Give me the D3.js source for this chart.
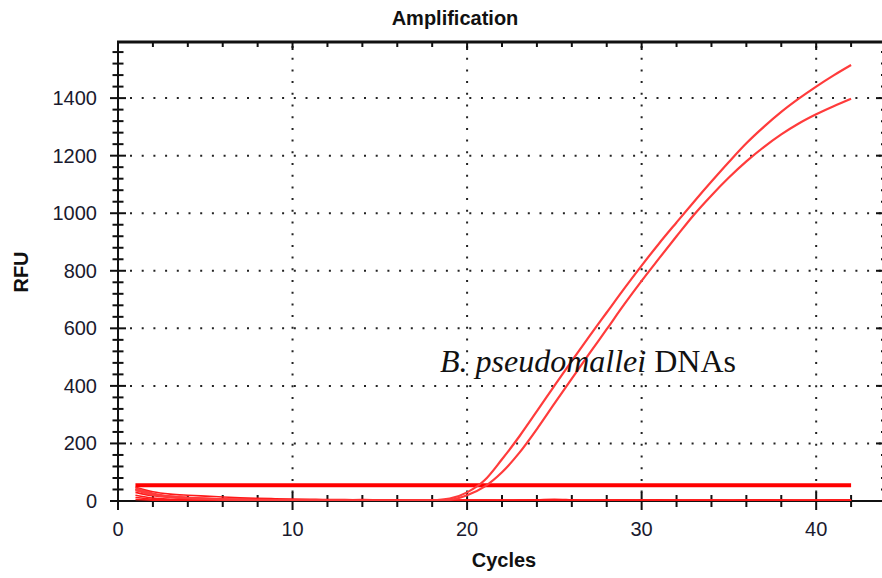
<!DOCTYPE html>
<html lang="en">
<head>
    <meta charset="UTF-8">
    <title>Amplification</title>
    <script src="https://d3js.org/d3.v7.min.js"></script>
    <style>
        body { margin: 0; background: white; }
        .tick-label { font-family: "Liberation Sans", Arial, sans-serif; font-size: 20px; fill: #1a1a2e; }
        .axis-title { font-family: "Liberation Sans", Arial, sans-serif; font-size: 20px; font-weight: bold; fill: #111; }
        .note { font-family: "Liberation Serif", "Times New Roman", serif; font-size: 32px; fill: #111; }
    </style>
</head>
<body>
<div id="chart"></div>
<script>
// cycle numbers (x) for every series
const cycles = [1, 2, 3, 4, 5, 6, 7, 8, 9, 10, 11, 12, 13, 14, 15, 16, 17, 18, 19, 20, 21,
    22, 23, 24, 25, 26, 27, 28, 29, 30, 31, 32, 33, 34, 35, 36, 37, 38, 39, 40, 41, 42];

// the two positive samples
const ampHigh = [44, 26, 16, 11, 8, 6, 5, 4, 3, 3, 2, 2, 2, 1, 1, 1, 1, 2, 8, 30, 72,
    145, 225, 312, 400, 487, 572, 655, 738, 818, 895, 968, 1040, 1110, 1178, 1243, 1300, 1352, 1398, 1440, 1479, 1515];
const ampLow = [38, 22, 14, 10, 7, 5, 4, 3, 3, 2, 2, 2, 1, 1, 1, 1, 1, 1, 4, 20, 50,
    100, 168, 250, 338, 425, 512, 597, 683, 765, 843, 920, 995, 1062, 1124, 1180, 1230, 1274, 1312, 1344, 1372, 1398];

// negatives / baseline wells
const neg1 = [48, 32, 24, 20, 17, 14, 11, 9, 8, 7, 6, 5, 5, 4, 4, 4, 3, 3, 3, 3, 3,
    3, 3, 3, 3, 3, 3, 3, 3, 3, 3, 3, 3, 3, 3, 3, 3, 3, 3, 3, 3, 3];
const neg2 = [40, 24, 16, 12, 9, 7, 6, 5, 4, 4, 3, 3, 3, 2, 2, 2, 2, 2, 2, 2, 2,
    2, 2, 2, 2, 2, 2, 2, 2, 2, 2, 2, 2, 2, 2, 2, 2, 2, 2, 2, 2, 2];
const neg3 = [30, 18, 12, 8, 6, 5, 4, 3, 3, 2, 2, 2, 3, 5, 3, 2, 2, 2, 1, 1, 2,
    2, 3, 4, 6, 4, 2, 2, 2, 3, 4, 3, 2, 2, 2, 3, 4, 3, 2, 2, 3, 3];
const neg4 = [20, 10, 6, 4, 3, 2, 2, 1, 1, 1, 1, 1, 1, 1, 1, 1, 1, 1, 1, 1, 1,
    1, 1, 1, 1, 1, 1, 1, 1, 1, 1, 1, 1, 1, 1, 1, 1, 1, 1, 1, 1, 1];
const neg5 = [12, 6, 4, 3, 2, 2, 3, 2, 1, 1, 2, 3, 2, 1, 1, 2, 1, 1, 2, 3, 2,
    1, 1, 2, 2, 1, 1, 2, 3, 2, 1, 1, 2, 2, 1, 2, 3, 2, 1, 1, 2, 2];
const neg6 = [5, 3, 2, 1, 1, 1, 0, 0, 1, 1, 0, 0, 0, 1, 1, 0, 0, 0, 0, 1, 1,
    0, 0, 0, 1, 1, 0, 0, 0, 0, 1, 0, 0, 0, 1, 1, 0, 0, 0, 0, 1, 1];

const threshold = 55;
const xMajor = [0, 10, 20, 30, 40];
const yMajor = [0, 200, 400, 600, 800, 1000, 1200, 1400];

function drawChart() {
    const W = 882, H = 578;
    const left = 118, top = 42, right = 886, bottom = 501;

    const svg = d3.select("#chart").append("svg")
        .attr("width", W).attr("height", H);

    const x = d3.scaleLinear().domain([0, 44]).range([left, right]);
    const y = d3.scaleLinear().domain([0, 1595]).range([bottom, top]);

    svg.append("clipPath").attr("id", "plot")
        .append("rect").attr("x", left).attr("y", top)
        .attr("width", right - left).attr("height", bottom - top);

    // dotted grid
    const grid = svg.append("g").attr("stroke", "#222").attr("stroke-width", 2)
        .attr("stroke-dasharray", "2,9.7");
    grid.selectAll(".gx").data(xMajor.filter(d => d > 0)).enter().append("line")
        .attr("x1", d => x(d)).attr("x2", d => x(d))
        .attr("y1", top + 4).attr("y2", bottom);
    grid.selectAll(".gy").data(yMajor.filter(d => d > 0)).enter().append("line")
        .attr("x1", left + 12).attr("x2", right)
        .attr("y1", d => y(d)).attr("y2", d => y(d));

    const minorY = d3.range(0, 1595, 40);
    const minorX = d3.range(0, 44, 2);
    const ax = svg.append("g").attr("stroke", "#111");
    // left ticks (cross the axis)
    ax.selectAll(".ly").data(minorY).enter().append("line")
        .attr("x1", d => left - (d % 200 === 0 ? 8 : 5.5))
        .attr("x2", d => left + (d % 200 === 0 ? 8 : 5.5))
        .attr("y1", d => y(d)).attr("y2", d => y(d)).attr("stroke-width", 2);
    // right ticks (inward)
    ax.selectAll(".ry").data(minorY).enter().append("line")
        .attr("x1", d => right - (d % 200 === 0 ? 10 : 5)).attr("x2", right)
        .attr("y1", d => y(d)).attr("y2", d => y(d)).attr("stroke-width", 2);
    // bottom ticks
    ax.selectAll(".bx").data(minorX).enter().append("line")
        .attr("x1", d => x(d)).attr("x2", d => x(d))
        .attr("y1", d => bottom - (d % 10 === 0 ? 9 : 6))
        .attr("y2", d => bottom + (d % 10 === 0 ? 9 : 6)).attr("stroke-width", 2);
    // top ticks (inward)
    ax.selectAll(".tx").data(minorX.filter(d => d > 0)).enter().append("line")
        .attr("x1", d => x(d)).attr("x2", d => x(d))
        .attr("y1", top).attr("y2", d => top + (d % 10 === 0 ? 8 : 5)).attr("stroke-width", 2);
    // frame
    ax.append("line").attr("x1", left).attr("x2", left).attr("y1", top - 1).attr("y2", bottom + 9).attr("stroke-width", 2);
    ax.append("line").attr("x1", left - 8).attr("x2", right).attr("y1", bottom).attr("y2", bottom).attr("stroke-width", 2);
    ax.append("line").attr("x1", left - 1).attr("x2", right).attr("y1", top).attr("y2", top).attr("stroke-width", 3);

    // tick labels
    svg.selectAll(".yl").data(yMajor).enter().append("text")
        .attr("class", "tick-label").attr("text-anchor", "end")
        .attr("x", 97).attr("y", d => y(d) + 7).text(d => d);
    svg.selectAll(".xl").data(xMajor).enter().append("text")
        .attr("class", "tick-label").attr("text-anchor", "middle")
        .attr("x", d => x(d)).attr("y", 536).text(d => d);

    // titles
    svg.append("text").attr("class", "axis-title").attr("text-anchor", "middle")
        .attr("x", 455).attr("y", 25).text("Amplification");
    svg.append("text").attr("class", "axis-title").attr("text-anchor", "middle")
        .attr("x", 504).attr("y", 567).text("Cycles");
    svg.append("text").attr("class", "axis-title").attr("text-anchor", "middle")
        .attr("transform", "translate(28,272) rotate(-90)").text("RFU");

    // curves
    const line = d3.line().x((d, i) => x(cycles[i])).y(d => y(d)).curve(d3.curveMonotoneX);
    const plot = svg.append("g").attr("clip-path", "url(#plot)").attr("fill", "none");

    [neg1, neg2, neg3, neg4, neg5, neg6].forEach(s => {
        plot.append("path").attr("d", line(s)).attr("stroke", "#ff1a1a").attr("stroke-width", 1.6);
    });
    plot.append("line")
        .attr("x1", x(cycles[0])).attr("x2", x(cycles[cycles.length - 1]))
        .attr("y1", y(threshold)).attr("y2", y(threshold))
        .attr("stroke", "#ff0000").attr("stroke-width", 4);
    [ampHigh, ampLow].forEach(s => {
        plot.append("path").attr("d", line(s)).attr("stroke", "#ff3b3b").attr("stroke-width", 2.2);
    });

    // annotation
    const note = svg.append("text").attr("class", "note").attr("x", 440).attr("y", 372);
    note.append("tspan").attr("font-style", "italic").text("B. pseudomallei");
    note.append("tspan").text(" DNAs");
}

drawChart();
</script>
</body>
</html>
